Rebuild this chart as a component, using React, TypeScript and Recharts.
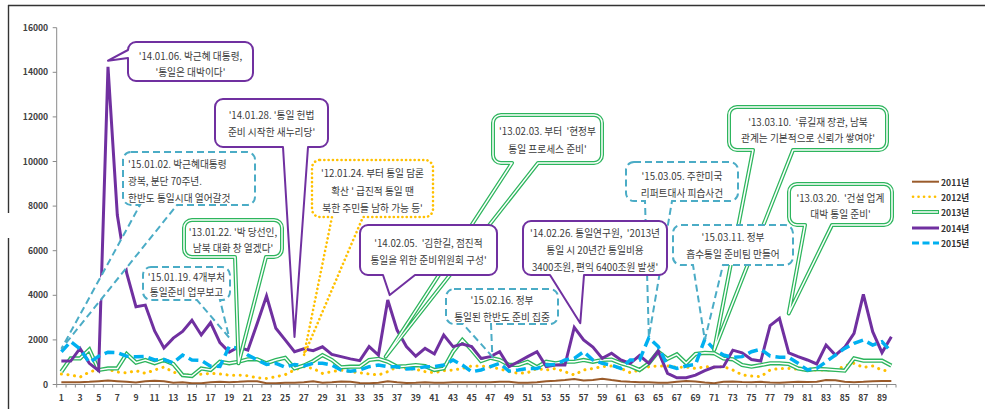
import React from 'react';
import { LineChart, Line, XAxis, YAxis, ReferenceDot, Legend } from 'recharts';

// ---------------- DATA ----------------
const days = [
  1, 2, 3, 4, 5, 6, 7, 8, 9, 10, 11, 12, 13, 14, 15, 16, 17, 18, 19, 20,
  21, 22, 23, 24, 25, 26, 27, 28, 29, 30, 31, 32, 33, 34, 35, 36, 37, 38, 39, 40,
  41, 42, 43, 44, 45, 46, 47, 48, 49, 50, 51, 52, 53, 54, 55, 56, 57, 58, 59, 60,
  61, 62, 63, 64, 65, 66, 67, 68, 69, 70, 71, 72, 73, 74, 75, 76, 77, 78, 79, 80,
  81, 82, 83, 84, 85, 86, 87, 88, 89, 90,
];

const s2011 = [
  100, 100, 100, 120, 150, 180, 150, 120, 90, 150, 170, 150, 80, 100, 60, 60, 100, 120, 100, 120,
  150, 150, 60, 60, 80, 80, 100, 150, 80, 100, 130, 120, 70, 60, 80, 150, 100, 70, 80, 100,
  80, 80, 100, 100, 100, 100, 100, 120, 120, 80, 80, 100, 150, 170, 200, 250, 180, 200, 260, 200,
  150, 120, 100, 100, 80, 80, 120, 160, 130, 90, 60, 120, 130, 110, 100, 120, 90, 80, 100, 120,
  110, 120, 200, 190, 120, 100, 120, 150, 160, 160,
];

const s2012 = [
  470, 430, 330, 560, 680, 680, 560, 520, 620, 500, 650, 780, 560, 420, 430, 460, 500, 470, 420, 420,
  390, 300, 270, 350, 440, 650, 800, 720, 500, 575, 650, 575, 530, 470, 425, 575, 800, 720, 680, 575,
  530, 620, 650, 720, 830, 830, 780, 700, 580, 500, 530, 720, 650, 720, 570, 430, 650, 720, 800, 830,
  720, 530, 650, 800, 830, 830, 770, 780, 720, 800, 770, 800, 650, 430, 380, 350, 650, 720, 720, 680,
  650, 650, 650, 650, 830, 950, 770, 830, 650, 570,
];

const s2013 = [
  570, 1170, 1170, 1570, 650, 720, 720, 1370, 980, 1100, 950, 1100, 920, 420, 380, 720, 650, 1020, 950, 1020,
  1130, 1130, 950, 1100, 1200, 720, 850, 1050, 1320, 1100, 770, 800, 800, 1100, 1150, 1020, 800, 830, 870, 830,
  650, 720, 1470, 2000, 1550, 1050, 1200, 1100, 880, 880, 1020, 780, 1020, 950, 1020, 1020, 1100, 1020, 1100, 1120,
  950, 830, 650, 950, 1470, 1150, 1350, 950, 1370, 1420, 1400, 1170, 1130, 870, 800, 870, 950, 950, 920, 720,
  650, 700, 680, 650, 620, 1170, 1070, 1070, 1070, 850,
];

const s2014 = [
  1050, 1050, 1620, 950, 620, 14250, 7600, 5000, 3490, 3560, 2400, 1640, 2080, 2380, 2880, 2220, 2770, 1880, 1450, 1680,
  1540, 2740, 3970, 2520, 2000, 1470, 1600, 1520, 1690, 1350, 1250, 1150, 1070, 1700, 1320, 3790, 2440, 1700, 1270, 1620,
  1370, 2220, 1700, 1810, 1700, 1170, 1250, 1470, 800, 1020, 1250, 1470, 800, 870, 870, 2560, 2000, 1680, 1170, 1400,
  1100, 950, 1300, 950, 1500, 500, 300, 300, 420, 620, 780, 800, 1540, 1420, 1120, 1050, 2640, 2970, 1420, 1250,
  1100, 920, 1770, 1320, 1670, 2290, 4040, 2370, 1430, 2140,
];

const s2015 = [
  1470, 1920, 1600, 980, 1270, 1450, 1430, 1270, 1240, 1260, 1100, 1120, 970, 1320, 1100, 1080, 820, 810, 1700, 1620,
  1320, 1100, 900, 950, 780, 900, 830, 950, 950, 870, 650, 600, 650, 800, 870, 800, 800, 700, 720, 800,
  800, 870, 1100, 870, 570, 650, 800, 950, 600, 650, 720, 720, 870, 900, 1100, 1170, 1470, 1100, 950, 870,
  720, 1100, 1100, 2100, 1700, 850, 720, 830, 900, 2030, 1580, 1320, 1220, 1250, 1470, 1580, 1280, 1220, 1220, 950,
  650, 720, 1020, 1320, 1620, 1850, 2000, 1770, 1920, 1470,
];

const yTicks = [0, 2000, 4000, 6000, 8000, 10000, 12000, 14000, 16000];
const seriesNames = ['2011년', '2012년', '2013년', '2014년', '2015년'];

// annotation texts and the data point each one points at (day, value)
const callouts = [
  { id: 'c1', day: 6, value: 14520, lines: ["'14.01.06. 박근혜 대통령,", "'통일은 대박이다'"] },
  { id: 'c2', day: 26, value: 2130, lines: ["'14.01.28. '통일 헌법", "준비 시작한 새누리당'"] },
  { id: 'c3', day: 1, value: 1600, lines: ["'15.01.02. 박근혜대통령", "광복, 분단 70주년.", "한반도 통일시대 열어갈것"] },
  { id: 'c4', day: 20, value: 950, lines: ["'13.01.22. '박 당선인,", "남북 대화 창 열겠다'"] },
  { id: 'c5', day: 19, value: 2100, lines: ["'15.01.19. 4개부처", "통일준비 업무보고"] },
  { id: 'c6', day: 27, value: 1300, lines: ["'12.01.24. 부터 통일 담론", "확산 ' 급진적 통일 땐", "북한 주민들 남하 가능 등'"] },
  { id: 'c8', day: 36, value: 1250, lines: ["'13.02.03. 부터  '현정부", "통일 프로세스 준비'"] },
  { id: 'c7', day: 36, value: 4010, lines: ["'14.02.05.  '김한길, 점진적", "통일을 위한 준비위원회 구성'"] },
  { id: 'c9', day: 47, value: 1250, lines: ["'15.02.16. 정부", "통일된 한반도 준비 집중"] },
  { id: 'c11', day: 64, value: 2130, lines: ["'15.03.05. 주한미국", "리퍼트대사 피습사건"] },
  { id: 'c10', day: 56, value: 2750, lines: ["'14.02.26. 통일연구원,  '2013년", "통일 시 20년간 통일비용", "3400조원, 편익 6400조원 발생'"] },
  { id: 'c13', day: 71, value: 1550, lines: ["'13.03.10.  '류길재 장관, 남북", "관계는 기본적으로 신뢰가 쌓여야'"] },
  { id: 'c12', day: 70, value: 2000, lines: ["'15.03.11. 정부", "흡수통일 준비팀 만들어"] },
  { id: 'c14', day: 79, value: 3190, lines: ["'13.03.20.  '건설 업계", "대박 통일 준비'"] },
];

// ---------------- LAYOUT / STYLE ----------------
const W = 985;
const H = 409;
const PLOT_LEFT = 56.7;
const PLOT_RIGHT = 896;
const PLOT_TOP = 27.7;
const PLOT_BOTTOM = 384.5;
const HALF_BAND = (PLOT_RIGHT - PLOT_LEFT) / days.length / 2;
const FONT = "'Noto Sans CJK KR', 'Noto Sans', sans-serif";

type Kind = 'purple' | 'blue' | 'orange' | 'green';
type Lay = {
  kind: Kind;
  box: [number, number, number, number];
  side: 'bottom' | 'left';
  base: [number, number];
  textY: number[];
  align?: 'center' | 'left';
  dx?: number;
};

const calloutLayout: Record<string, Lay> = {
  c1: { kind: 'purple', box: [128, 42, 125, 39], side: 'left', base: [50, 58], textY: [56, 72] },
  c2: { kind: 'purple', box: [215, 99, 113, 48], side: 'bottom', base: [283, 308], textY: [115, 132] },
  c3: { kind: 'blue', box: [123, 152, 132, 53], side: 'bottom', base: [140, 177], textY: [164, 181, 197.5], align: 'left' },
  c4: { kind: 'green', box: [184, 220, 98, 37], side: 'bottom', base: [235, 266], textY: [232, 248] },
  c5: { kind: 'blue', box: [143, 267, 87, 33], side: 'bottom', base: [197, 220], textY: [277, 292] },
  c6: { kind: 'orange', box: [312, 160, 121, 57], side: 'bottom', base: [332, 363], textY: [173, 190.5, 207.5] },
  c8: { kind: 'green', box: [493, 115, 109, 48], side: 'bottom', base: [512, 538], textY: [131, 149], dx: -2 },
  c7: { kind: 'purple', box: [360, 225, 137, 50], side: 'bottom', base: [383, 415], textY: [243, 260], dx: 2 },
  c9: { kind: 'blue', box: [446, 289, 112, 35], side: 'bottom', base: [463, 491], textY: [299.5, 316.5], dx: 2 },
  c11: { kind: 'blue', box: [626, 162, 112, 39], side: 'bottom', base: [645, 672], textY: [176, 193] },
  c10: { kind: 'purple', box: [523, 221, 144, 54], side: 'bottom', base: [550, 584], textY: [233, 250, 267], dx: 6 },
  c13: { kind: 'green', box: [729, 107, 158, 43], side: 'bottom', base: [753, 793], textY: [122, 138] },
  c12: { kind: 'blue', box: [673, 225, 120, 40], side: 'bottom', base: [693, 723], textY: [237, 254] },
  c14: { kind: 'green', box: [789, 184, 103, 41], side: 'bottom', base: [805, 832], textY: [197.5, 214] },
};

const COLORS = {
  y2011: '#9A5B2B',
  y2012: '#FFC000',
  y2013: '#2DB55D',
  y2014: '#7030A0',
  y2015: '#00B0F0',
  calloutBlue: '#4BACC6',
  axis: '#8a8a8a',
  text: '#3a3a3a',
};

const data = days.map((d, i) => ({
  day: d,
  y2011: s2011[i],
  y2012: s2012[i],
  y2013: s2013[i],
  y2014: s2014[i],
  y2015: s2015[i],
}));

function bubblePath(
  x: number, y: number, w: number, h: number, r: number,
  side: 'bottom' | 'left', b1: number, b2: number, tx: number, ty: number
) {
  let d = `M${x + r},${y} L${x + w - r},${y} A${r},${r} 0 0 1 ${x + w},${y + r} L${x + w},${y + h - r} A${r},${r} 0 0 1 ${x + w - r},${y + h} `;
  if (side === 'bottom') d += `L${b2},${y + h} L${tx},${ty} L${b1},${y + h} `;
  d += `L${x + r},${y + h} A${r},${r} 0 0 1 ${x},${y + h - r} `;
  if (side === 'left') d += `L${x},${b2} L${tx},${ty} L${x},${b1} `;
  d += `L${x},${y + r} A${r},${r} 0 0 1 ${x + r},${y} Z`;
  return d;
}

function makeCalloutShape(lines: string[], lay: Lay) {
  return (props: any) => {
    const { cx, cy } = props;
    if (cx == null || cy == null) return <g />;
    const tx = cx + (lay.dx || 0);
    const ty = cy;
    const [bx, by, bw, bh] = lay.box;
    const d = bubblePath(bx, by, bw, bh, 8, lay.side, lay.base[0], lay.base[1], tx, ty);
    let outline: React.ReactNode;
    if (lay.kind === 'purple') {
      outline = <path d={d} fill="#fff" stroke={COLORS.y2014} strokeWidth={2} strokeLinejoin="round" />;
    } else if (lay.kind === 'blue') {
      outline = <path d={d} fill="#fff" stroke={COLORS.calloutBlue} strokeWidth={2} strokeDasharray="7 4" />;
    } else if (lay.kind === 'orange') {
      outline = (
        <path d={d} fill="#fff" stroke={COLORS.y2012} strokeWidth={2.6} strokeDasharray="0.1 4.2" strokeLinecap="round" />
      );
    } else {
      outline = (
        <g>
          <path d={d} fill="#fff" stroke={COLORS.y2013} strokeWidth={4} strokeLinejoin="round" />
          <path d={d} fill="none" stroke="#fff" strokeWidth={1.5} strokeLinejoin="round" />
        </g>
      );
    }
    const left = lay.align === 'left';
    return (
      <g>
        {outline}
        {lines.map((t, i) => (
          <text
            key={i}
            x={left ? bx + 5 : bx + bw / 2}
            y={lay.textY[i]}
            textAnchor={left ? 'start' : 'middle'}
            dominantBaseline="central"
            fontSize={9.7}
            fill={COLORS.text}
            fontFamily={FONT}
            style={{ whiteSpace: 'pre' }}
          >
            {t}
          </text>
        ))}
      </g>
    );
  };
}

const XTick = (props: any) => {
  const { x, y, payload, index } = props;
  const v = payload.value as number;
  return (
    <g>
      <line x1={x - HALF_BAND} x2={x - HALF_BAND} y1={y} y2={y + 3} stroke={COLORS.axis} strokeWidth={1} />
      {index === days.length - 1 && (
        <line x1={x + HALF_BAND} x2={x + HALF_BAND} y1={y} y2={y + 3} stroke={COLORS.axis} strokeWidth={1} />
      )}
      {v % 2 === 1 && (
        <text
          x={x}
          y={y + 12.5}
          textAnchor="middle"
          dominantBaseline="central"
          fontSize={8.6}
          fontWeight={700}
          fill="#404040"
          fontFamily={FONT}
        >
          {v}
        </text>
      )}
    </g>
  );
};

const legendItems = [
  { name: seriesNames[0], kind: 'y2011' },
  { name: seriesNames[1], kind: 'y2012' },
  { name: seriesNames[2], kind: 'y2013' },
  { name: seriesNames[3], kind: 'y2014' },
  { name: seriesNames[4], kind: 'y2015' },
];

const LegendBox = () => {
  const rowY = [9.7, 24.7, 40, 56, 71];
  return (
    <svg width={80} height={82} style={{ display: 'block', overflow: 'visible' }}>
      {legendItems.map((it, i) => {
        const y = rowY[i];
        let sample: React.ReactNode;
        if (it.kind === 'y2011') {
          sample = <line x1={7} x2={34} y1={y} y2={y} stroke={COLORS.y2011} strokeWidth={2} />;
        } else if (it.kind === 'y2012') {
          sample = (
            <line x1={8} x2={34} y1={y} y2={y} stroke={COLORS.y2012} strokeWidth={2.6} strokeDasharray="0.1 5.4" strokeLinecap="round" />
          );
        } else if (it.kind === 'y2013') {
          sample = (
            <g>
              <line x1={7} x2={34} y1={y} y2={y} stroke={COLORS.y2013} strokeWidth={4} />
              <line x1={8} x2={33} y1={y} y2={y} stroke="#fff" strokeWidth={1.5} />
            </g>
          );
        } else if (it.kind === 'y2014') {
          sample = <line x1={7} x2={34} y1={y} y2={y} stroke={COLORS.y2014} strokeWidth={3} />;
        } else {
          sample = <line x1={7} x2={34} y1={y} y2={y} stroke={COLORS.y2015} strokeWidth={3} strokeDasharray="7 3.5" />;
        }
        return (
          <g key={it.name}>
            {sample}
            <text x={36} y={y} dominantBaseline="central" fontSize={8.6} fontWeight={700} fill="#333" fontFamily={FONT}>
              {it.name}
            </text>
          </g>
        );
      })}
    </svg>
  );
};

export default function App() {
  return (
    <div style={{ position: 'absolute', left: 0, top: 0, width: W, height: H, background: '#fff' }}>
      <svg width={W} height={H} style={{ position: 'absolute', left: 0, top: 0 }}>
        <line x1={8} x2={W} y1={5.5} y2={5.5} stroke="#333" strokeWidth={1.4} />
        <line x1={8.5} x2={8.5} y1={5} y2={213} stroke="#333" strokeWidth={1.4} />
        <line x1={8.5} x2={8.5} y1={238} y2={H} stroke="#333" strokeWidth={1.4} />
      </svg>
      <div style={{ position: 'absolute', left: 0, top: 0 }}>
        <LineChart
          width={W}
          height={H}
          data={data}
          margin={{ top: PLOT_TOP, right: W - PLOT_RIGHT, bottom: 0, left: 0 }}
        >
          <XAxis
            dataKey="day"
            type="category"
            interval={0}
            height={H - PLOT_BOTTOM}
            padding={{ left: HALF_BAND, right: HALF_BAND }}
            tickLine={false}
            tickSize={0}
            tickMargin={0}
            stroke={COLORS.axis}
            tick={<XTick />}
          />
          <YAxis
            type="number"
            domain={[0, 16000]}
            ticks={yTicks}
            interval={0}
            width={PLOT_LEFT}
            tickSize={4}
            tickMargin={4.5}
            stroke={COLORS.axis}
            tick={{ fontSize: 8.6, fontWeight: 700, fill: '#404040', fontFamily: FONT }}
          />
          <Line type="linear" dataKey="y2011" name={seriesNames[0]} stroke={COLORS.y2011} strokeWidth={2} dot={false} activeDot={false} isAnimationActive={false} />
          <Line type="linear" dataKey="y2012" name={seriesNames[1]} stroke={COLORS.y2012} strokeWidth={3} strokeDasharray="0.1 6.5" strokeLinecap="round" dot={false} activeDot={false} isAnimationActive={false} />
          <Line type="linear" dataKey="y2013" name={seriesNames[2]} stroke={COLORS.y2013} strokeWidth={4.2} dot={false} activeDot={false} isAnimationActive={false} />
          <Line type="linear" dataKey="y2013" name="y2013inner" legendType="none" stroke="#fff" strokeWidth={1.5} dot={false} activeDot={false} isAnimationActive={false} />
          <Line type="linear" dataKey="y2014" name={seriesNames[3]} stroke={COLORS.y2014} strokeWidth={3} dot={false} activeDot={false} isAnimationActive={false} />
          <Line type="linear" dataKey="y2015" name={seriesNames[4]} stroke={COLORS.y2015} strokeWidth={3.5} strokeDasharray="10 5" dot={false} activeDot={false} isAnimationActive={false} />
          {callouts.map((c) => (
            <ReferenceDot
              key={c.id}
              x={c.day}
              y={c.value}
              r={0}
              ifOverflow="visible"
              shape={makeCalloutShape(c.lines, calloutLayout[c.id])}
            />
          ))}
          <Legend
            layout="horizontal"
            verticalAlign="middle"
            align="center"
            wrapperStyle={{ left: 905, top: 172, width: 80, height: 82 }}
            content={() => <LegendBox />}
          />
        </LineChart>
      </div>
    </div>
  );
}
